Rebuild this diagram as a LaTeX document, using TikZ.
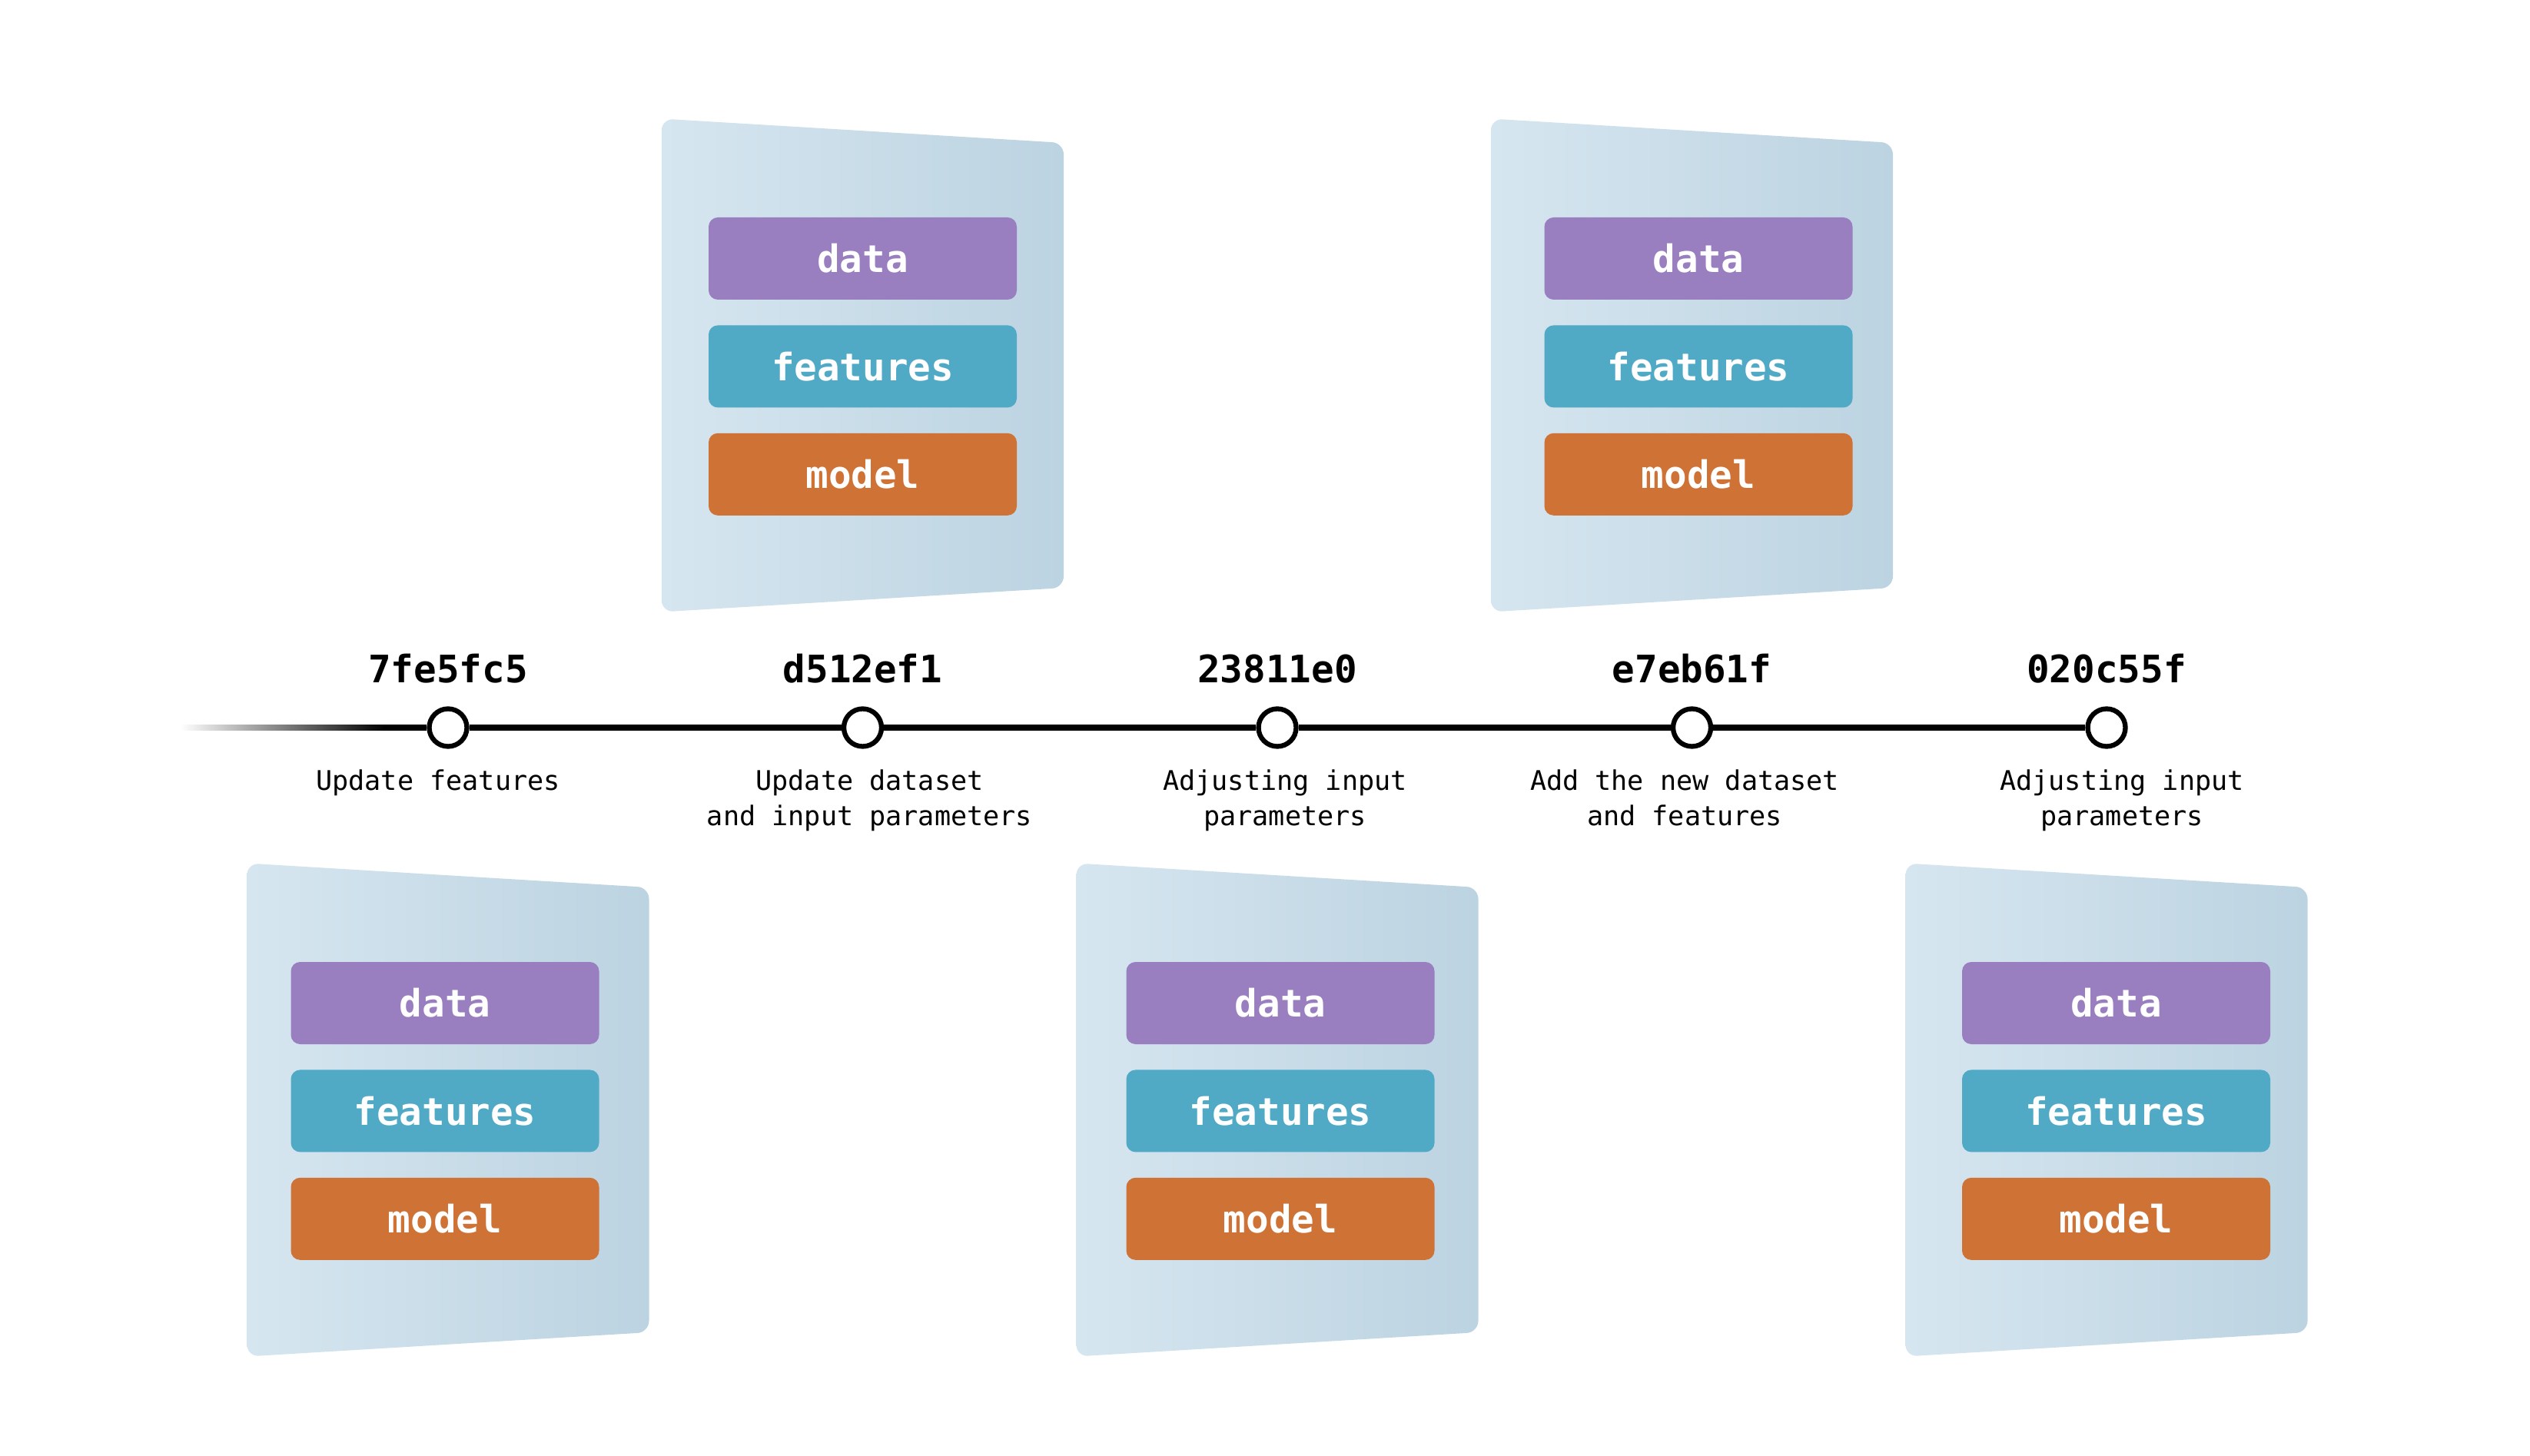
\documentclass[tikz,border=0pt]{standalone}
\usepackage{fontspec}
\setmonofont{DejaVu Sans Mono}
\usepackage{tikz}
\usetikzlibrary{positioning,calc}
\definecolor{datapurple}{HTML}{9A7FC0}
\definecolor{featteal}{HTML}{50AAC6}
\definecolor{modelorange}{HTML}{CE7236}
\definecolor{panelleft}{HTML}{D6E6F0}
\definecolor{panelright}{HTML}{BCD3E1}
\tikzset{% 
  commit/.style={%
    circle,
    draw,
    line width=1.8pt,
    fill=white,
    minimum size=0.49cm,
    inner sep=0pt
  }
}
\tikzset{% 
  hash/.style={%
    font=\ttfamily\bfseries\fontsize{14}{17}\selectfont,
    anchor=base,
    inner sep=0pt
  }
}
\tikzset{% 
  message/.style={%
    font=\ttfamily\fontsize{10}{13}\selectfont,
    align=center,
    anchor=north,
    inner sep=0pt
  }
}
\tikzset{% 
  part/.style={%
    rounded corners=0.12cm,
    minimum width=4.01cm,
    minimum height=1.07cm,
    inner sep=0pt,
    text=white,
    font=\ttfamily\bfseries\fontsize{14}{17}\selectfont
  }
}
\tikzset{% 
  panel/.style={%
    left color=panelleft,
    right color=panelright,
    rounded corners=0.15cm
  }
}
\tikzset{% 
  history/.style={%
    line width=2.2pt
  }
}
% panel with its three parts: name, x, y, shift of the parts
\newcommand{\modelpanel}[4]{%
  \shade[panel] (#2-2.615,#3+3.21) -- (#2+2.615,#3+2.895) -- (#2+2.615,#3-2.895) -- (#2-2.615,#3-3.21) -- cycle;
  \node[part, fill=datapurple] (data#1) at (#2+#4,#3+1.39) {data};
  \node[part, fill=featteal, below=0.32cm of data#1] (feat#1) {features};
  \node[part, fill=modelorange, below=0.32cm of feat#1] (model#1) {model};
}

\begin{document}
\begin{tikzpicture}
  \useasboundingbox (0,-9.47) rectangle (32.92,9.47);
  % snapshots
  \modelpanel{1}{5.83}{-4.975}{-0.04}
  \modelpanel{2}{11.225}{4.715}{0}
  \modelpanel{3}{16.62}{-4.975}{0.04}
  \modelpanel{4}{22.015}{4.715}{0.085}
  \modelpanel{5}{27.41}{-4.975}{0.125}
  % commits
  \node[commit] (c1) at (5.83, 0) {};
  \node[commit] (c2) at (11.225, 0) {};
  \node[commit] (c3) at (16.62, 0) {};
  \node[commit] (c4) at (22.015, 0) {};
  \node[commit] (c5) at (27.41, 0) {};
  \coordinate (tail) at (2.35, 0);
  \coordinate (fade) at (5.0, 0);
  \shade[left color=white, right color=black] ($(tail)+(0,-0.0385)$) rectangle ($(fade)+(0,0.0385)$);
  \draw[history] (fade) -- (c1);
  \draw[history] (c1) -- (c2);
  \draw[history] (c2) -- (c3);
  \draw[history] (c3) -- (c4);
  \draw[history] (c4) -- (c5);
  % hashes
  \node[hash] (h1) at (5.83, 0.58) {7fe5fc5};
  \node[hash] (h2) at (11.225, 0.58) {d512ef1};
  \node[hash] (h3) at (16.62, 0.58) {23811e0};
  \node[hash] (h4) at (22.015, 0.58) {e7eb61f};
  \node[hash] (h5) at (27.41, 0.58) {020c55f};
  % messages
  \node[message] (m1) at (5.70, -0.54) {Update features};
  \node[message] (m2) at (11.315, -0.54) {Update dataset\\and input parameters};
  \node[message] (m3) at (16.72, -0.54) {Adjusting input\\parameters};
  \node[message] (m4) at (21.92, -0.54) {Add the new dataset\\and features};
  \node[message] (m5) at (27.61, -0.54) {Adjusting input\\parameters};
\end{tikzpicture}
\end{document}
